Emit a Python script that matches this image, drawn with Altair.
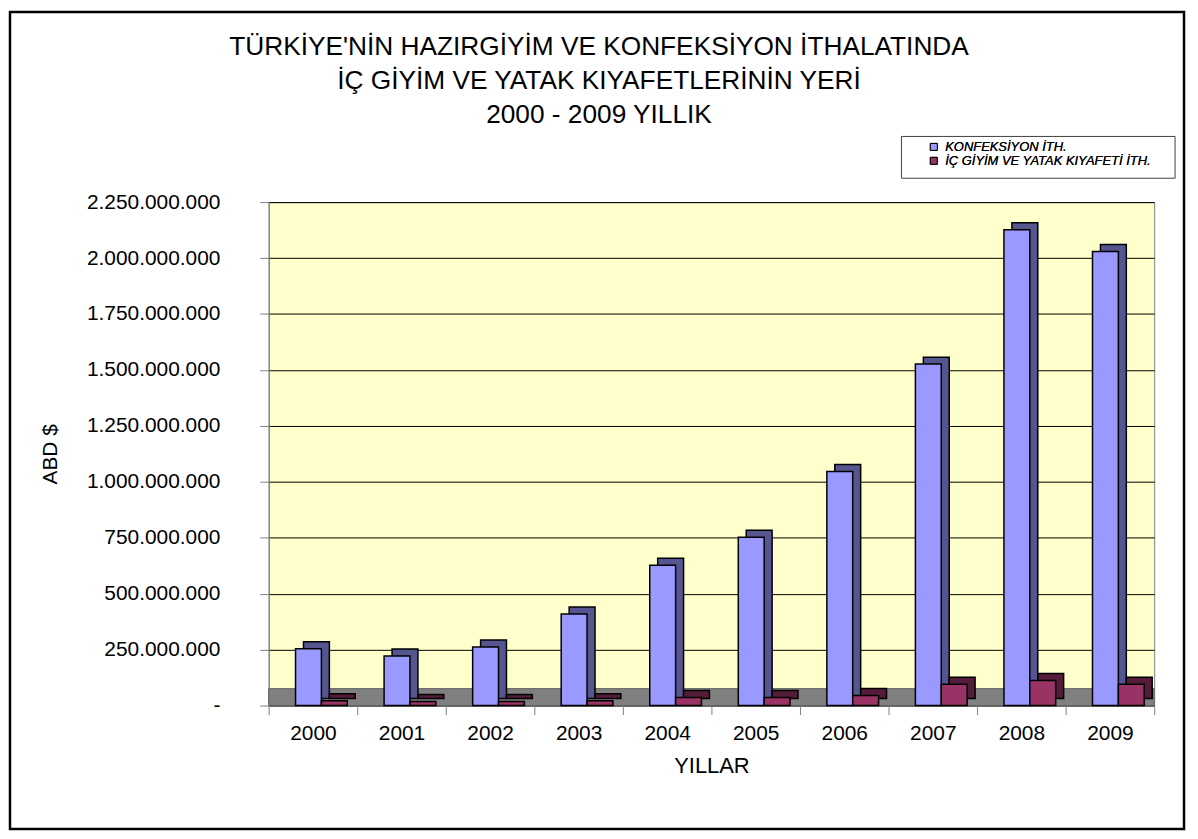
import altair as alt
import pandas as pd

years = ["2000", "2001", "2002", "2003", "2004", "2005", "2006", "2007", "2008", "2009"]
series = ["KONFEKSİYON İTH.", "İÇ GİYİM VE YATAK KIYAFETİ İTH."]
konfeksiyon = [254e6, 222e6, 262e6, 409e6, 627e6, 752e6, 1046e6, 1526e6, 2127e6, 2029e6]
ic_giyim = [22e6, 18e6, 18e6, 22e6, 36e6, 36e6, 45e6, 95e6, 112e6, 95e6]
y_ticks = [0, 250e6, 500e6, 750e6, 1000e6, 1250e6, 1500e6, 1750e6, 2000e6, 2250e6]
title_lines = ["TÜRKİYE'NİN HAZIRGİYİM VE KONFEKSİYON İTHALATINDA",
               "İÇ GİYİM VE YATAK KIYAFETLERİNİN YERİ",
               "2000 - 2009 YILLIK"]

front_colors = ["#9999FF", "#993366"]
side_colors = ["#55558F", "#551C3A"]

rows = []
for i, yr in enumerate(years):
    rows.append({"year": yr, "series": series[0], "value": konfeksiyon[i]})
    rows.append({"year": yr, "series": series[1], "value": ic_giyim[i]})
df = pd.DataFrame(rows)

FONT = "Liberation Sans"
W, H = 890, 506
BAR_W = 26

x_enc = alt.X("year:N", sort=years,
              scale=alt.Scale(paddingInner=0, paddingOuter=0),
              axis=alt.Axis(title="YILLAR", labelAngle=0, tickBand="extent",
                            labelFontSize=21, titleFontSize=22, labelFont=FONT, titleFont=FONT,
                            titleFontWeight="normal", labelColor="black", titleColor="black",
                            domainColor="#808080", tickColor="#808080", tickSize=9,
                            labelPadding=8, titlePadding=12, grid=False))

y_scale = alt.Scale(domain=[0, 2250e6], nice=False)
label_expr = ("datum.value == 0 ? '-' : replace(replace(replace(format(datum.value, ',d'), ',', '.'), ',', '.'), ',', '.')")

y_axis = alt.Axis(title="ABD $", values=y_ticks, labelExpr=label_expr,
                  labelFontSize=21, titleFontSize=21, labelFont=FONT, titleFont=FONT,
                  titleFontWeight="normal", labelColor="black", titleColor="black",
                  domainColor="#808080", tickColor="#808080", tickSize=9,
                  labelPadding=40, titlePadding=26,
                  grid=True, gridColor="black", gridWidth=1)
y_enc = alt.Y("value:Q", scale=y_scale, axis=y_axis)

color_side = alt.Color("series:N", sort=series,
                       scale=alt.Scale(domain=series, range=side_colors), legend=None)
color_front = alt.Color("series:N", sort=series,
                        scale=alt.Scale(domain=series, range=front_colors),
                        legend=alt.Legend(title=None, orient="none", legendX=662, legendY=-62,
                                          direction="vertical", symbolType="square", symbolSize=49,
                                          symbolStrokeColor="black", symbolStrokeWidth=1,
                                          labelFont=FONT, labelFontSize=13, labelFontStyle="italic",
                                          labelFontWeight="normal",
                                          labelColor="black", rowPadding=0, padding=0,
                                          labelOffset=5, labelLimit=400))

base = alt.Chart(df)

def bar_layer(s, dx, dy, color):
    return base.transform_filter(alt.datum.series == s).mark_bar(
        width=BAR_W, xOffset=dx, yOffset=dy, y2Offset=dy, stroke="black", strokeWidth=1.5
    ).encode(x=x_enc, y=y_enc, color=color)

side_blue = bar_layer(series[0], 3.5, -7, color_side)
side_red = bar_layer(series[1], 29.5, -7, color_side)
front_blue = bar_layer(series[0], -4.5, 0, color_front)
front_red = bar_layer(series[1], 21.5, 0, color_front)

one = pd.DataFrame({"k": [0]})

floor = alt.Chart(one).mark_rect(fill="#808080", stroke="#606060").encode(
    x=alt.value(0), x2=alt.value(W), y=alt.value(H - 17), y2=alt.value(H))

border = alt.Chart(one).mark_rect(fillOpacity=0, stroke="black", strokeWidth=2.5).encode(
    x=alt.value(-260), x2=alt.value(920), y=alt.value(-191), y2=alt.value(630))

legend_box = alt.Chart(one).mark_rect(fill="white", stroke="#404040", strokeWidth=1).encode(
    x=alt.value(636), x2=alt.value(911), y=alt.value(-66), y2=alt.value(-24))

title = alt.Chart(one).mark_text(text=title_lines, font=FONT, fontSize=26.4, lineHeight=34,
                                 align="center", baseline="middle", color="black").encode(
    x=alt.value(332), y=alt.value(-156))

chart = alt.layer(floor, side_blue, side_red, front_blue, front_red,
                  border, legend_box, title).resolve_scale(
    color="independent"
).properties(
    width=W, height=H,
    autosize=alt.AutoSizeParams(type="none"),
    padding={"left": 262, "top": 193, "right": 36, "bottom": 130},
).configure_view(fill="#FFFFCC", stroke="#808080", strokeWidth=1)

chart.save("out.html", embed_options={"renderer": "svg", "actions": False})
